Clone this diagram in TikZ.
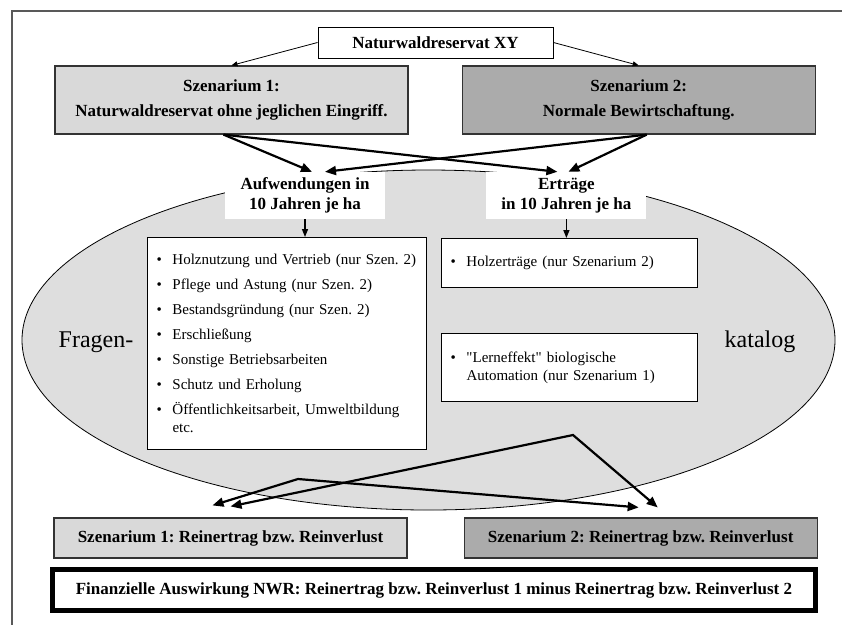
\documentclass[tikz,border=0pt]{standalone}
\usepackage{fontspec}
\setmainfont{Liberation Serif}
\usetikzlibrary{arrows.meta,positioning,shapes.geometric}
\frenchspacing
\definecolor{hellgrau}{gray}{0.85}
\definecolor{mittelgrau}{gray}{0.67}
\definecolor{ovalgrau}{gray}{0.87}
\definecolor{rahmengrau}{gray}{0.35}
\newcommand{\listpunkt}{\makebox[16pt][l]{\textbullet}}
\tikzset{
	frame-line/.style={
		draw=rahmengrau,
		line width=1.5pt
	},
	head-box/.style={
		draw,
		rectangle,
		fill=white,
		line width=1pt,
		font=\fontsize{17}{20}\selectfont\bfseries
	},
	szenario/.style={
		draw=black!80,
		rectangle,
		line width=1.2pt,
		fill=#1,
		minimum width=353pt,
		minimum height=68pt,
		align=center,
		font=\fontsize{17}{25}\selectfont\bfseries
	},
	szenario/.default=hellgrau,
	label-box/.style={
		rectangle,
		fill=white,
		inner sep=0pt,
		minimum width=160pt,
		minimum height=47pt,
		align=center,
		font=\fontsize{17}{20}\selectfont\bfseries
	},
	list-box/.style={
		draw,
		rectangle,
		fill=white,
		line width=1pt,
		inner xsep=9pt,
		align=left,
		font=\fontsize{15}{18}\selectfont
	},
	oval/.style={ % requires library shapes.geometric
		draw,
		ellipse,
		fill=ovalgrau,
		line width=0.8pt,
		inner sep=0pt,
		minimum width=813pt,
		minimum height=340pt
	},
	big-text/.style={
		font=\fontsize{24}{28}\selectfont
	},
	result-box/.style={
		draw=black!80,
		rectangle,
		line width=1.2pt,
		fill=#1,
		minimum width=353pt,
		minimum height=40pt,
		font=\fontsize{17}{20}\selectfont\bfseries
	},
	result-box/.default=hellgrau,
	final-box/.style={
		draw,
		rectangle,
		line width=5pt,
		fill=white,
		minimum width=763pt,
		minimum height=41pt,
		font=\fontsize{17}{20}\selectfont\bfseries
	},
	thin-arrow/.style={
		-{Triangle[length=6pt,width=5pt]},
		line width=0.8pt
	},
	thick-arrow/.style={
		-{Triangle[length=11pt,width=9pt]},
		line width=2.2pt
	},
	short-arrow/.style={
		-{Triangle[length=8pt,width=6pt]},
		line width=1.4pt
	},
	both-arrow/.style={
		{Triangle[length=11pt,width=9pt]}-{Triangle[length=11pt,width=9pt]},
		line width=2.2pt
	},
}

\begin{document}
\begin{tikzpicture}[x=1pt,y=-1pt]
	\useasboundingbox (0,0) rectangle (842,625);
	\draw[frame-line] (842,11) -| (12,625);
	\node[oval] (oval) at (428.5,340) {};
	\node[big-text] (fragen) at (96,342) {Fragen-};
	\node[big-text] (katalog) at (760,342) {katalog};
	\node[head-box, minimum width=235pt, minimum height=31pt] (nwr) at (435.5,42.5) {Naturwaldreservat XY};
	\node[szenario] (sz1) at (231.5,100) {Szenarium 1:\\Naturwaldreservat ohne jeglichen Eingriff.};
	\node[szenario=mittelgrau, right=53pt of sz1] (sz2) {Szenarium 2:\\Normale Bewirtschaftung.};
	\node[label-box] (aufw) at (305,195.5) {Aufwendungen in\\10 Jahren je ha};
	\node[label-box, right=101pt of aufw] (ertr) {Erträge\\in 10 Jahren je ha};
	\node[list-box, text width=261pt, minimum height=212pt, anchor=north west] (aufwlist) at (147,237) {%
		\listpunkt Holznutzung und Vertrieb (nur Szen. 2)\\[7pt]
		\listpunkt Pflege und Astung (nur Szen. 2)\\[7pt]
		\listpunkt Bestandsgründung (nur Szen. 2)\\[7pt]
		\listpunkt Erschließung\\[7pt]
		\listpunkt Sonstige Betriebsarbeiten\\[7pt]
		\listpunkt Schutz und Erholung\\[7pt]
		\listpunkt Öffentlichkeitsarbeit, Umweltbildung\\
		\hspace*{16pt}etc.};
	\node[list-box, text width=238pt, minimum height=49pt, anchor=north west] (holz) at (441,238) {\listpunkt Holzerträge (nur Szenarium 2)};
	\node[list-box, text width=238pt, minimum height=68pt, below=45pt of holz] (lern) {\listpunkt \textquotedbl Lerneffekt\textquotedbl{} biologische\\\hspace*{16pt}Automation (nur Szenarium 1)};
	\node[result-box] (res1) at (230.5,538) {Szenarium 1: Reinertrag bzw. Reinverlust};
	\node[result-box=mittelgrau, right=56pt of res1] (res2) {Szenarium 2: Reinertrag bzw. Reinverlust};
	\node[final-box] (fin) at (434,590) {Finanzielle Auswirkung NWR: Reinertrag bzw. Reinverlust 1 minus Reinertrag bzw. Reinverlust 2};
	% arrows
	\draw[thin-arrow] (nwr.west) -- (sz1.north);
	\draw[thin-arrow] (nwr.east) -- (sz2.north);
	\draw[thick-arrow] ([xshift=-8pt]sz1.south) -- ([xshift=7pt]aufw.north);
	\draw[thick-arrow] ([xshift=-8pt]sz1.south) -- ([xshift=-9pt]ertr.north);
	\draw[thick-arrow] ([xshift=8pt]sz2.south) -- ([xshift=20pt]aufw.north);
	\draw[thick-arrow] ([xshift=8pt]sz2.south) -- ([xshift=2pt]ertr.north);
	\draw[short-arrow] (aufw.south) -- (aufw.south |- aufwlist.north);
	\draw[short-arrow] (ertr.south) -- (ertr.south |- holz.north);
	\coordinate (knick-a) at (298,479);
	\coordinate (knick-b) at (573,435);
	\draw[both-arrow] ([xshift=-18pt,yshift=12pt]res1.north) -- (knick-a) -- ([xshift=-2pt,yshift=10pt]res2.north);
	\draw[both-arrow] ([yshift=11pt]res1.north) -- (knick-b) -- ([xshift=17pt,yshift=10pt]res2.north);
\end{tikzpicture}
\end{document}
